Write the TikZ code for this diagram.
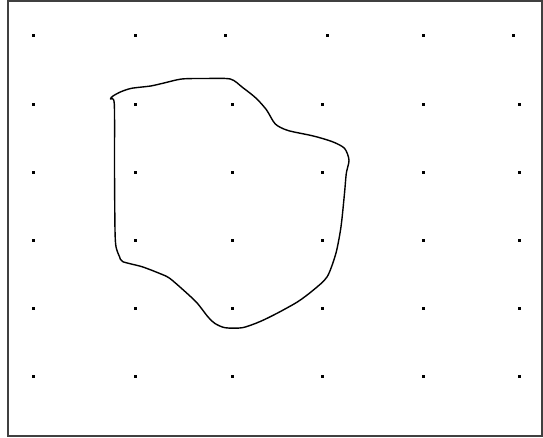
\documentclass[tikz,border=0pt]{standalone}
\begin{document}
\begin{tikzpicture}[x=1pt,y=-1pt,
  frame/.style={draw=black!75,line width=1.6pt},
  gdot/.style={fill=black},
  blob/.style={draw=black,line width=1.4pt,line join=round}]
\useasboundingbox (0,0) rectangle (543,437);
\fill[white] (0,0) rectangle (543,437);
\draw[frame] (8,1) rectangle (542,436);
% dot grid
\foreach \x in {33.6,135.7,225.8,327.9,423.8,513.5}
  \fill[gdot] (\x-1.5,35.7-1.5) rectangle ++(3,3);
\foreach \y in {104,172.3,240.3,308.3,376.7}
  \foreach \x in {33.6,135.7,232,322,423.8,519.4}
    \fill[gdot] (\x-1.5,\y-1.5) rectangle ++(3,3);
% freehand closed curve
\draw[blob] plot[smooth cycle,tension=0.45] coordinates {
  (114.3,104) (110.5,99) (113,96) (121,91.7) (131.6,88.3) (150.6,86)
  (162.7,83.3) (181.8,79) (205,78.5) (230.3,79) (242.4,87.3) (256.2,98.3)
  (266.6,110) (275.3,124) (288,130.5) (313.4,136)
  (332.4,141.7) (344.5,148.3) (349,160) (346.3,173.3) (344.5,193.3)
  (341,226.7) (335.9,253.3) (327.2,276.7) (313.4,290) (297.8,301.7)
  (277,313.3) (259.7,321.7) (242.4,327.7) (225,327.7) (214.7,323.3)
  (207.8,316.7) (197.4,303.3) (187,293.3) (169.7,278.3) (159.3,273.3)
  (142,266.7) (122.9,261.7) (119.5,256.7) (116,246.7) (115,230)
  (114.5,170) };
\end{tikzpicture}
\end{document}
